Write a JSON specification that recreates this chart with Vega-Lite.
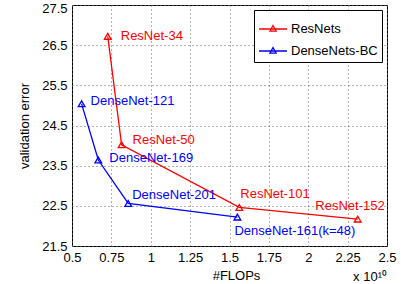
{
  "$schema": "https://vega.github.io/schema/vega-lite/v6.json",
  "width": 315,
  "height": 241,
  "autosize": "none",
  "padding": {"left": 72, "top": 5, "right": 14, "bottom": 38},
  "background": "white",
  "title": {
    "text": "x 10¹⁰",
    "orient": "bottom",
    "anchor": "end",
    "frame": "group",
    "offset": -11,
    "fontSize": 13,
    "fontWeight": "normal",
    "color": "black",
    "font": "Liberation Sans"
  },
  "config": {
    "font": "Liberation Sans",
    "view": {"stroke": "black", "strokeWidth": 1},
    "axis": {
      "domain": false,
      "ticks": false,
      "grid": true,
      "gridColor": "#666666",
      "gridDash": [1, 3],
      "gridWidth": 1,
      "labelFontSize": 13,
      "labelColor": "black",
      "labelPadding": 5,
      "labelFlush": false,
      "labelOverlap": false,
      "titleFontSize": 13,
      "titleFontWeight": "normal",
      "titleColor": "black"
    }
  },
  "data": {
    "values": [
      {"series": "ResNets", "name": "ResNet-34", "flops": 0.727, "err": 26.72},
      {"series": "ResNets", "name": "ResNet-50", "flops": 0.815, "err": 24.02},
      {"series": "ResNets", "name": "ResNet-101", "flops": 1.562, "err": 22.46},
      {"series": "ResNets", "name": "ResNet-152", "flops": 2.314, "err": 22.17},
      {"series": "DenseNets-BC", "name": "DenseNet-121", "flops": 0.561, "err": 25.04},
      {"series": "DenseNets-BC", "name": "DenseNet-169", "flops": 0.667, "err": 23.64},
      {"series": "DenseNets-BC", "name": "DenseNet-201", "flops": 0.857, "err": 22.56},
      {"series": "DenseNets-BC", "name": "DenseNet-161(k=48)", "flops": 1.55, "err": 22.22}
    ]
  },
  "encoding": {
    "x": {
      "field": "flops", "type": "quantitative",
      "scale": {"domain": [0.5, 2.5], "nice": false, "zero": false},
      "axis": {"title": "#FLOPs", "values": [0.5, 0.75, 1, 1.25, 1.5, 1.75, 2, 2.25, 2.5], "labelExpr": "'' + datum.value", "titleX": 164, "titlePadding": 5}
    },
    "y": {
      "field": "err", "type": "quantitative",
      "scale": {"domain": [21.5, 27.5], "nice": false, "zero": false},
      "axis": {
        "title": "validation error",
        "values": [21.5, 22.5, 23.5, 24.5, 25.5, 26.5, 27.5],
        "format": ".1f",
        "titlePadding": 10,
        "labelOffset": {"condition": {"test": "datum.value == 27.5", "value": 3}, "value": 0}
      }
    }
  },
  "layer": [
    {
      "mark": {"type": "line", "strokeWidth": 1.3},
      "encoding": {
        "color": {
          "field": "series", "type": "nominal",
          "scale": {"domain": ["ResNets", "DenseNets-BC"], "range": ["#ff0000", "#0000ff"]},
          "legend": {
            "title": null,
            "orient": "top-right",
            "offset": 5,
            "fillColor": "white",
            "strokeColor": "black",
            "padding": 4,
            "labelFontSize": 13,
            "labelColor": "black",
            "labelOffset": 3,
            "rowPadding": 0,
            "symbolType": "M-1,0H1M0,-0.25L0.22,0.15L-0.22,0.15Z",
            "symbolSize": 784,
            "symbolStrokeWidth": 1.3,
            "symbolFillColor": "transparent"
          }
        },
        "order": {"field": "flops"}
      }
    },
    {
      "mark": {"type": "point", "shape": "triangle-up", "filled": false, "size": 45, "strokeWidth": 1.3, "opacity": 1},
      "encoding": {
        "color": {"field": "series", "type": "nominal", "legend": null}
      }
    },
    {
      "transform": [{"filter": "datum.name == 'ResNet-34'"}],
      "mark": {"type": "text", "align": "left", "baseline": "middle", "dx": 13, "dy": 0, "fontSize": 13, "color": "#ff0000"},
      "encoding": {"text": {"field": "name"}}
    },
    {
      "transform": [{"filter": "datum.name == 'ResNet-50'"}],
      "mark": {"type": "text", "align": "left", "baseline": "middle", "dx": 11, "dy": -5, "fontSize": 13, "color": "#ff0000"},
      "encoding": {"text": {"field": "name"}}
    },
    {
      "transform": [{"filter": "datum.name == 'ResNet-101'"}],
      "mark": {"type": "text", "align": "left", "baseline": "middle", "dx": 1, "dy": -13, "fontSize": 13, "color": "#ff0000"},
      "encoding": {"text": {"field": "name"}}
    },
    {
      "transform": [{"filter": "datum.name == 'ResNet-152'"}],
      "mark": {"type": "text", "align": "right", "baseline": "middle", "dx": 27, "dy": -13, "fontSize": 13, "color": "#ff0000"},
      "encoding": {"text": {"field": "name"}}
    },
    {
      "transform": [{"filter": "datum.name == 'DenseNet-121'"}],
      "mark": {"type": "text", "align": "left", "baseline": "middle", "dx": 9, "dy": -3, "fontSize": 13, "color": "#0000ff"},
      "encoding": {"text": {"field": "name"}}
    },
    {
      "transform": [{"filter": "datum.name == 'DenseNet-169'"}],
      "mark": {"type": "text", "align": "left", "baseline": "middle", "dx": 11, "dy": -2, "fontSize": 13, "color": "#0000ff"},
      "encoding": {"text": {"field": "name"}}
    },
    {
      "transform": [{"filter": "datum.name == 'DenseNet-201'"}],
      "mark": {"type": "text", "align": "left", "baseline": "middle", "dx": 4, "dy": -8, "fontSize": 13, "color": "#0000ff"},
      "encoding": {"text": {"field": "name"}}
    },
    {
      "transform": [{"filter": "datum.name == 'DenseNet-161(k=48)'"}],
      "mark": {"type": "text", "align": "left", "baseline": "middle", "dx": -3, "dy": 14, "fontSize": 13, "color": "#0000ff"},
      "encoding": {"text": {"field": "name"}}
    }
  ]
}
